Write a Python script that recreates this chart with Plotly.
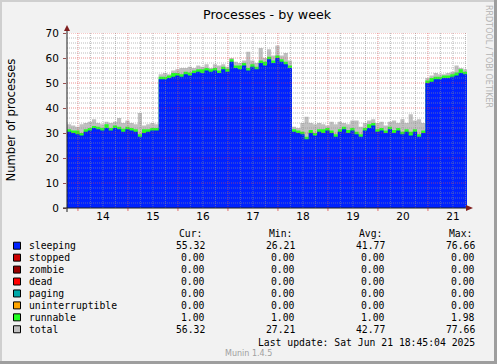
import numpy as np
import plotly.graph_objects as go

# ---------------- data ----------------
# hours since 2025-06-13 00:00, 2-hour slots starting at 18:45
start_h = 18.75
slot_h = 2.0

sleeping = [
    30.5, 30.0, 29.5, 29.0, 30.5, 31.0, 32.0, 31.5, 31.0, 32.0, 31.0, 32.0, 31.5, 30.5, 31.5, 31.0, 30.5, 28.5, 30.0, 30.5, 31.0, 31.0,
    51.5, 51.5, 52.0, 52.5, 53.0, 52.5, 53.5, 53.0, 54.0, 54.5, 54.0, 55.0, 54.5, 55.0, 54.0, 55.5, 54.5, 58.5, 56.0, 55.5, 57.0, 55.0, 56.5, 55.5, 58.0, 57.0, 59.5, 58.0, 60.0, 58.5, 57.5, 56.0,
    30.5, 30.0, 29.5, 27.5, 30.0, 29.0, 30.5, 30.0, 31.0, 30.0, 28.5, 30.5, 31.5, 30.0, 31.0, 29.5, 28.5, 31.0, 32.0, 33.0, 30.5, 31.0, 30.0, 31.5, 30.0, 31.0, 29.5, 30.5, 29.0, 30.5, 28.5, 30.0,
    50.0, 50.5, 51.5, 51.5, 52.0, 52.0, 52.5, 53.0, 54.0, 53.5,
]
runnable = [
    1.0, 1.0, 1.5, 1.0, 1.0, 1.0, 0.8, 1.0, 1.0, 1.5, 1.0, 1.0, 1.0, 1.2, 1.0, 1.0, 1.0, 1.0, 1.5, 1.0, 1.0, 1.0,
    1.0, 1.0, 1.0, 1.5, 1.0, 1.0, 1.0, 1.2, 1.0, 1.0, 1.5, 1.0, 1.0, 1.0, 1.0, 1.0, 1.2, 1.0, 1.0, 1.5, 1.0, 1.0, 1.0, 1.0, 1.0, 1.5, 1.0, 1.0, 1.0, 1.0, 1.0, 1.0,
    1.0, 1.0, 1.0, 1.0, 1.2, 1.0, 1.0, 1.5,
    1.0, 1.0, 1.0, 1.0, 1.0, 1.2, 1.0, 1.0,
    1.0, 1.0, 1.5, 1.0, 1.0, 1.0, 1.0, 1.0,
    1.2, 1.0, 1.0, 1.0, 1.5, 1.0, 1.0, 1.0,
    1.0, 1.5, 1.0, 1.0, 1.0, 1.0, 1.0, 1.2, 1.5, 1.0,
]
total = [
    33.5, 33.0, 32.5, 33.5, 34.0, 34.5, 35.5, 34.0, 33.5, 34.5, 34.0, 34.5, 36.0, 34.0, 35.0, 34.0, 33.5, 38.0, 33.0, 33.5, 34.0, 33.5,
    53.5, 54.0, 53.5, 55.0, 55.5, 56.0, 56.0, 56.5, 56.0, 57.0, 56.5, 57.5, 56.0, 57.5, 57.0, 57.5, 56.5, 60.0, 58.5, 58.0, 59.0, 62.5, 59.0, 58.0, 64.0, 60.0, 63.5, 61.0, 65.0, 61.0, 62.0, 59.0,
    32.5, 32.0, 34.0, 36.5, 34.0, 33.5, 34.0, 33.5, 33.0, 34.5, 33.5, 34.5, 34.0, 33.5, 35.0, 35.0, 32.5, 34.0, 35.0, 35.5, 34.0, 34.5, 33.0, 34.5, 35.0, 34.0, 35.5, 34.0, 37.5, 35.0, 35.5, 34.0,
    52.0, 53.0, 54.0, 53.5, 53.5, 54.0, 54.5, 57.0, 56.0, 55.5,
]

day_labels = ["14", "15", "16", "17", "18", "19", "20", "21"]
y_ticks = [0, 10, 20, 30, 40, 50, 60, 70]

legend_names = ["sleeping", "stopped", "zombie", "dead", "paging", "uninterruptible", "runnable", "total"]
legend_colors = ["#0022ff", "#cc0000", "#990000", "#ff0000", "#00aaaa", "#ffa500", "#22ff22", "#c0c0c0"]
cur_vals = ["55.32", "0.00", "0.00", "0.00", "0.00", "0.00", "1.00", "56.32"]
min_vals = ["26.21", "0.00", "0.00", "0.00", "0.00", "0.00", "1.00", "27.21"]
avg_vals = ["41.77", "0.00", "0.00", "0.00", "0.00", "0.00", "1.00", "42.77"]
max_vals = ["76.66", "0.00", "0.00", "0.00", "0.00", "0.00", "1.98", "77.66"]
col_headers = ["Cur:", "Min:", "Avg:", "Max:"]
last_update = "Last update: Sat Jun 21 18:45:04 2025"
title_text = "Processes - by week"
y_title = "Number of processes"

# ---------------- layout geometry (pixels) ----------------
W, H = 497, 364
L, T = 67, 33
PW, PH = 400, 175
R = W - L - PW
B = H - T - PH


def fx(px):
    return (px - L) / PW


def fy(py):
    return (T + PH - py) / PH


n = min(len(sleeping), len(runnable), len(total))
x_edges = start_h + slot_h * np.arange(n + 1)
s_arr = np.array(sleeping[:n])
r_arr = np.array(runnable[:n])
t_arr = np.array(total[:n])


def ext(a):
    return np.append(a, a[-1])


x_end = start_h + 192.0

fig = go.Figure()
fig.add_trace(go.Scatter(x=x_edges, y=ext(t_arr), mode="lines", line=dict(width=0, shape="hv"),
                         fill="tozeroy", fillcolor="#c0c0c0", hoverinfo="skip", showlegend=False))
fig.add_trace(go.Scatter(x=x_edges, y=ext(s_arr + r_arr), mode="lines", line=dict(width=0, shape="hv"),
                         fill="tozeroy", fillcolor="#22ff22", hoverinfo="skip", showlegend=False))
fig.add_trace(go.Scatter(x=x_edges, y=ext(s_arr), mode="lines", line=dict(width=0, shape="hv"),
                         fill="tozeroy", fillcolor="#0022ff", hoverinfo="skip", showlegend=False))

shapes = []
minor_col = "rgba(143,143,143,0.6)"
major_col = "rgba(222,79,79,0.6)"
dot = "1px,1px"
# vertical grid + ticks
h = 24.0
while h < x_end:
    if h > start_h:
        is_major = (h % 24 == 0)
        shapes.append(dict(type="line", xref="x", yref="y", x0=h, x1=h, y0=0, y1=70, layer="above",
                           line=dict(color=major_col if is_major else minor_col, width=1, dash=dot)))
        if is_major:
            shapes.append(dict(type="line", xref="x", yref="paper", x0=h, x1=h, y0=fy(208), y1=fy(211),
                               layer="above", line=dict(color="rgba(222,79,79,0.8)", width=1)))
    h += 6.0
# horizontal grid
for v in range(2, 71, 2):
    is_major = (v % 10 == 0)
    shapes.append(dict(type="line", xref="x", yref="y", x0=start_h, x1=x_end, y0=v, y1=v, layer="above",
                       line=dict(color=major_col if is_major else minor_col, width=1, dash=dot)))

# axes lines
axis_col = "#1f1f1f"
arrow_col = "#801f1f"
shapes.append(dict(type="line", xref="paper", yref="paper", x0=fx(63), x1=fx(468), y0=fy(208), y1=fy(208),
                   layer="above", line=dict(color=axis_col, width=1)))
shapes.append(dict(type="line", xref="paper", yref="paper", x0=fx(67), x1=fx(67), y0=fy(212), y1=fy(30),
                   layer="above", line=dict(color=axis_col, width=1)))
# arrows
shapes.append(dict(type="path", xref="paper", yref="paper",
                   path=f"M {fx(466)},{fy(205)} L {fx(473)},{fy(208)} L {fx(466)},{fy(211)} Z",
                   fillcolor=arrow_col, line=dict(width=0), layer="above"))
shapes.append(dict(type="path", xref="paper", yref="paper",
                   path=f"M {fx(64)},{fy(31)} L {fx(67)},{fy(25)} L {fx(70)},{fy(31)} Z",
                   fillcolor=arrow_col, line=dict(width=0), layer="above"))

# border shading
shapes.append(dict(type="rect", xref="paper", yref="paper", x0=fx(0), x1=fx(2), y0=fy(0), y1=fy(H),
                   fillcolor="#cfcfcf", line=dict(width=0), layer="above"))
shapes.append(dict(type="rect", xref="paper", yref="paper", x0=fx(0), x1=fx(W), y0=fy(0), y1=fy(2),
                   fillcolor="#cfcfcf", line=dict(width=0), layer="above"))
shapes.append(dict(type="rect", xref="paper", yref="paper", x0=fx(W - 3), x1=fx(W), y0=fy(0), y1=fy(H),
                   fillcolor="#9e9e9e", line=dict(width=0), layer="above"))
shapes.append(dict(type="rect", xref="paper", yref="paper", x0=fx(0), x1=fx(W), y0=fy(H - 3), y1=fy(H),
                   fillcolor="#9e9e9e", line=dict(width=0), layer="above"))

annotations = []
SANS = "DejaVu Sans"
MONO = "DejaVu Sans Mono"


def ann(text, x, y, size, xanchor="left", yanchor="middle", family=MONO, color="#000000", angle=0):
    annotations.append(dict(text=text, x=fx(x), y=fy(y), xref="paper", yref="paper", showarrow=False,
                            xanchor=xanchor, yanchor=yanchor, textangle=angle,
                            font=dict(family=family, size=size, color=color)))


ann(title_text, 267, 14, 12.7, xanchor="center", family=SANS)
ann(y_title, 10, 120.5, 11.6, xanchor="center", family=SANS, angle=-90)
ann("RRDTOOL / TOBI OETIKER", 488.5, 56.5, 8, xanchor="center", family=SANS, color="#b4b4b4", angle=90)

FS = 9.75
row0 = 245.7
dy = 11.94
col_right = [206.7, 296.7, 386.7, 477.3]
header_y = 233.3
for j, hd in enumerate(col_headers):
    ann(hd, col_right[j] - 30, header_y, FS, xanchor="left")
for i, name in enumerate(legend_names):
    y = row0 + dy * i
    shapes.append(dict(type="rect", xref="paper", yref="paper", x0=fx(13.5), x1=fx(20.5), y0=fy(y - 3.5),
                       y1=fy(y + 3.5), fillcolor=legend_colors[i], line=dict(color="#000000", width=1), layer="above"))
    ann(name, 27, y, FS, xanchor="left")
    for j, vals in enumerate([cur_vals, min_vals, avg_vals, max_vals]):
        ann(vals[i], col_right[j], y, FS, xanchor="right")
ann(last_update, 477.3, 342.3, FS, xanchor="right")
ann("Munin 1.4.5", 248, 353.3, 8, xanchor="center", family=SANS, color="#a0a0a0")

tickvals_x = [24.0 * (i + 1) + 12.0 for i in range(len(day_labels))]

fig.update_layout(
    width=W, height=H,
    margin=dict(l=L, r=R, t=T, b=B, pad=0, autoexpand=False),
    paper_bgcolor="#f2f2f2", plot_bgcolor="#ffffff",
    showlegend=False,
    shapes=shapes, annotations=annotations,
    xaxis=dict(range=[start_h, x_end], tickvals=tickvals_x, ticktext=day_labels, showgrid=False,
               zeroline=False, showline=False, ticks="", tickfont=dict(family=SANS, size=10.5, color="#000000"),
               fixedrange=True),
    yaxis=dict(range=[0, 70], tickvals=y_ticks, showgrid=False, zeroline=False, showline=False,
               ticks="outside", ticklen=3, tickcolor="rgba(130,40,40,0.8)", ticklabelstandoff=2,
               tickfont=dict(family=SANS, size=10.5, color="#000000"), fixedrange=True),
)

fig.write_html("out.html", config={"displayModeBar": False},
               post_script="document.body.style.margin='0';document.body.style.overflow='hidden';")
